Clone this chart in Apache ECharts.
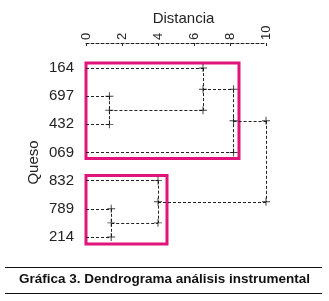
<!DOCTYPE html>
<html><head><meta charset="utf-8">
<script src="https://cdn.jsdelivr.net/npm/echarts@6/dist/echarts.min.js"></script>
<style>html,body{margin:0;padding:0;background:#fff}#c{width:329px;height:301px}</style>
</head><body><div id="c"></div>
<script>
// Leaves (top to bottom)
const leaves = ['164', '697', '432', '069', '832', '789', '214'];
// Merges: [childA, childB, distance]; internal nodes referenced as 'N0','N1',...
const merges = [
  ['697', '432', 1.3],   // N0
  ['164', 'N0', 6.5],    // N1
  ['N1', '069', 8.2],    // N2
  ['789', '214', 1.4],   // N3
  ['832', 'N3', 4.0],    // N4
  ['N2', 'N4', 10.0]     // N5 (root)
];
const xTicks = [0, 2, 4, 6, 8, 10];
// Highlighted clusters: [xFrom, xTo, rowFrom, rowTo]
const boxes = [
  [-0.17, 8.5, -0.18, 3.21],
  [-0.17, 4.5, 3.82, 6.25]
];

const nodes = {};
leaves.forEach((l, i) => nodes[l] = {x: 0, y: i});
const segs = [];
const marks = [];
merges.forEach((m, k) => {
  const a = nodes[m[0]], b = nodes[m[1]], h = m[2];
  const y = (a.y + b.y) / 2;
  segs.push([[a.x, a.y], [h, a.y]]);
  segs.push([[b.x, b.y], [h, b.y]]);
  segs.push([[h, a.y], [h, b.y]]);
  marks.push([h, a.y], [h, b.y]);
  if (k < merges.length - 1) marks.push([h, y]);
  nodes['N' + k] = {x: h, y: y};
});

const chart = echarts.init(document.getElementById('c'), null, {renderer: 'canvas'});
const FONT = 'Liberation Sans';
const dash = [3, 2];
chart.setOption({
  animation: false,
  backgroundColor: '#fff',
  grid: {left: 86, right: 63, top: 54, height: 197},
  xAxis: {
    type: 'value', position: 'top', offset: 11,
    min: 0, max: 10, interval: 2,
    name: 'Distancia', nameLocation: 'middle', nameGap: 17, nameMoveOverlap: false,
    nameTextStyle: {fontFamily: FONT, fontSize: 15, color: '#222', padding: [0, 0, 0, 15], verticalAlign: 'bottom'},
    axisLine: {onZero: false, lineStyle: {color: '#222', type: dash, width: 1}},
    axisTick: {inside: true, length: 3, lineStyle: {color: '#222'}},
    axisLabel: {rotate: -90, margin: 3, fontFamily: FONT, fontSize: 13, color: '#222',
      formatter: v => xTicks.includes(v) ? String(v) : ''},
    splitLine: {show: false}
  },
  yAxis: [{
    type: 'category', inverse: true, data: leaves,
    name: 'Queso', nameLocation: 'middle', nameGap: 45, nameRotate: 90, nameMoveOverlap: false,
    nameTextStyle: {fontFamily: FONT, fontSize: 15, color: '#222', padding: [0, 20, 0, 0]},
    axisLine: {show: false}, axisTick: {show: false},
    axisLabel: {margin: 12, fontFamily: FONT, fontSize: 15, color: '#222'},
    splitLine: {show: false}
  }, {
    type: 'value', inverse: true, min: -0.5, max: 6.5, show: false,
    splitLine: {show: false}
  }],
  series: [
    {
      type: 'lines', coordinateSystem: 'cartesian2d', yAxisIndex: 1, polyline: false, silent: true,
      lineStyle: {color: '#222', width: 1, type: dash, opacity: 1},
      data: segs.map(s => ({coords: s})),
      markArea: {
        silent: true,
        itemStyle: {color: 'rgba(0,0,0,0)', borderColor: '#e0147a', borderWidth: 3},
        data: boxes.map(b => [{coord: [b[0], b[2]]}, {coord: [b[1], b[3]]}])
      }
    },
    {
      type: 'scatter', yAxisIndex: 1, silent: true,
      symbol: 'path://M-0.12,-1H0.12V-0.12H1V0.12H0.12V1H-0.12V0.12H-1V-0.12H-0.12Z',
      symbolSize: 8, itemStyle: {color: '#111'},
      data: marks
    }
  ],
  graphic: [
    {type: 'line', shape: {x1: 5, y1: 267.5, x2: 322, y2: 267.5}, style: {stroke: '#111', lineWidth: 1}},
    {type: 'line', shape: {x1: 5, y1: 293.5, x2: 322, y2: 293.5}, style: {stroke: '#111', lineWidth: 1}},
    {type: 'text', left: 'center', top: 272, style: {text: 'Gráfica 3. Dendrograma análisis instrumental',
      font: 'bold 13.5px "Liberation Sans"', fill: '#111'}}
  ]
});
</script></body></html>
